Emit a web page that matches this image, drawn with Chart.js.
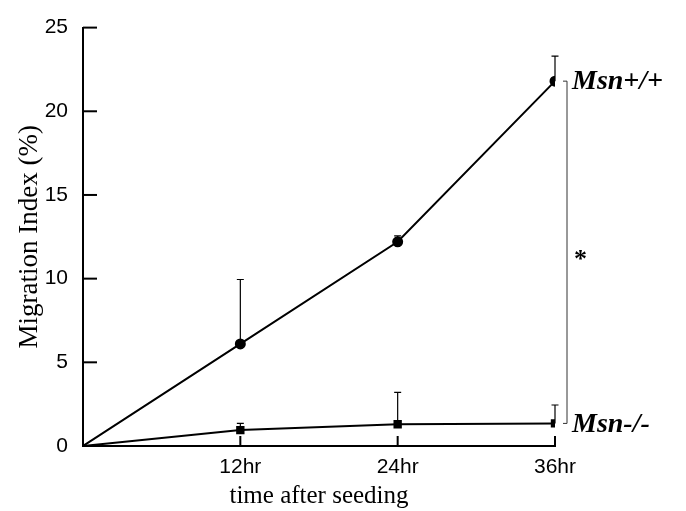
<!DOCTYPE html>
<html>
<head>
<meta charset="utf-8">
<script src="https://cdn.jsdelivr.net/npm/chart.js@4"></script>
<style>
  html, body { margin: 0; padding: 0; background: #fff; }
  #wrap { width: 686px; height: 511px; }
</style>
</head>
<body>
<div id="wrap"><canvas id="migration"></canvas></div>
<script>
const hours = [0, 12, 24, 36];
const hourLabels = ['', '12hr', '24hr', '36hr'];
const wildType = [0, 6.1, 12.2, 21.8];
const wildTypeErr = [0, 3.85, 0.35, 1.5];
const knockout = [0, 0.95, 1.3, 1.35];
const knockoutErr = [0, 0.4, 1.9, 1.1];
const yTicks = [0, 5, 10, 15, 20, 25];

const tickFont = "'Liberation Sans', Arial, sans-serif";
const serifFont = "'Liberation Serif', 'DejaVu Serif', serif";

function toPoints(xs, ys) {
  return xs.map((x, i) => ({ x: x, y: ys[i] }));
}

// error bars (upward only), inward ticks, bracket and labels
const extras = {
  id: 'extras',
  afterDatasetsDraw(chart) {
    const ctx = chart.ctx;
    const xs = chart.scales.x;
    const ys = chart.scales.y;
    const area = chart.chartArea;

    ctx.save();
    ctx.strokeStyle = '#000';
    ctx.lineWidth = 1.2;
    const sets = [[wildType, wildTypeErr], [knockout, knockoutErr]];
    sets.forEach(([vals, errs]) => {
      hours.forEach((h, i) => {
        if (!errs[i]) return;
        const px = xs.getPixelForValue(h);
        const y0 = ys.getPixelForValue(vals[i]);
        const y1 = ys.getPixelForValue(vals[i] + errs[i]);
        ctx.beginPath();
        ctx.moveTo(px, y0);
        ctx.lineTo(px, y1);
        ctx.moveTo(px - 3.5, y1);
        ctx.lineTo(px + 3.5, y1);
        ctx.stroke();
      });
    });

    // inward ticks
    ctx.lineWidth = 2;
    yTicks.forEach(v => {
      const py = ys.getPixelForValue(v);
      ctx.beginPath();
      ctx.moveTo(area.left, py);
      ctx.lineTo(area.left + 14, py);
      ctx.stroke();
    });
    hours.slice(1).forEach(h => {
      const px = xs.getPixelForValue(h);
      ctx.beginPath();
      ctx.moveTo(px, area.bottom);
      ctx.lineTo(px, area.bottom - 10);
      ctx.stroke();
    });

    // significance bracket
    const bx = area.right + 12;
    const top = ys.getPixelForValue(wildType[3]);
    const bot = ys.getPixelForValue(knockout[3]);
    ctx.lineWidth = 1;
    ctx.strokeStyle = '#333';
    ctx.beginPath();
    ctx.moveTo(bx - 4, top);
    ctx.lineTo(bx, top);
    ctx.lineTo(bx, bot);
    ctx.lineTo(bx - 4, bot);
    ctx.stroke();

    ctx.fillStyle = '#000';
    ctx.textBaseline = 'middle';
    ctx.textAlign = 'left';
    ctx.font = "bold italic 28px " + serifFont;
    ctx.fillText('Msn+/+', bx + 5, top + 1);
    ctx.fillText('Msn-/-', bx + 5, bot + 1);
    ctx.font = "bold 26px " + serifFont;
    ctx.fillText('*', bx + 7, (top + bot) / 2 + 8);
    ctx.restore();
  }
};

const ctx = document.getElementById('migration').getContext('2d');
const migrationChart = new Chart(ctx, {
  type: 'line',
  data: {
    datasets: [
      {
        label: 'Msn+/+',
        data: toPoints(hours, wildType),
        borderColor: '#000',
        backgroundColor: '#000',
        borderWidth: 2,
        pointStyle: 'circle',
        pointRadius: [0, 4.5, 4.5, 4.5],
        tension: 0
      },
      {
        label: 'Msn-/-',
        data: toPoints(hours, knockout),
        borderColor: '#000',
        backgroundColor: '#000',
        borderWidth: 2,
        pointStyle: 'rect',
        pointRadius: [0, 4.5, 4.5, 4.5],
        tension: 0
      }
    ]
  },
  options: {
    responsive: true,
    maintainAspectRatio: false,
    animation: false,
    layout: { padding: { top: 19, right: 131, left: 0, bottom: 0 } },
    plugins: {
      legend: { display: false },
      tooltip: { enabled: false }
    },
    scales: {
      x: {
        type: 'linear',
        min: 0,
        max: 36,
        afterBuildTicks: scale => { scale.ticks = hours.map(h => ({ value: h })); },
        afterFit: scale => { scale.height = 65; },
        grid: { display: false, drawTicks: false },
        border: { display: true, color: '#000', width: 2 },
        ticks: {
          color: '#000',
          padding: 9,
          font: { family: tickFont, size: 21 },
          callback: (v) => hourLabels[hours.indexOf(v)] || ''
        },
        title: {
          display: true,
          text: 'time after seeding',
          color: '#000',
          padding: { top: 4, bottom: 0 },
          font: { family: serifFont, size: 25 }
        }
      },
      y: {
        min: 0,
        max: 25,
        afterBuildTicks: scale => { scale.ticks = yTicks.map(v => ({ value: v })); },
        afterFit: scale => { scale.width = 83; },
        grid: { display: false, drawTicks: false },
        border: { display: true, color: '#000', width: 2 },
        ticks: {
          color: '#000',
          padding: 15,
          font: { family: tickFont, size: 21 }
        },
        title: {
          display: true,
          text: 'Migration Index (%)',
          color: '#000',
          padding: { top: 14, bottom: 0 },
          font: { family: serifFont, size: 27 }
        }
      }
    }
  },
  plugins: [extras]
});
</script>
</body>
</html>
